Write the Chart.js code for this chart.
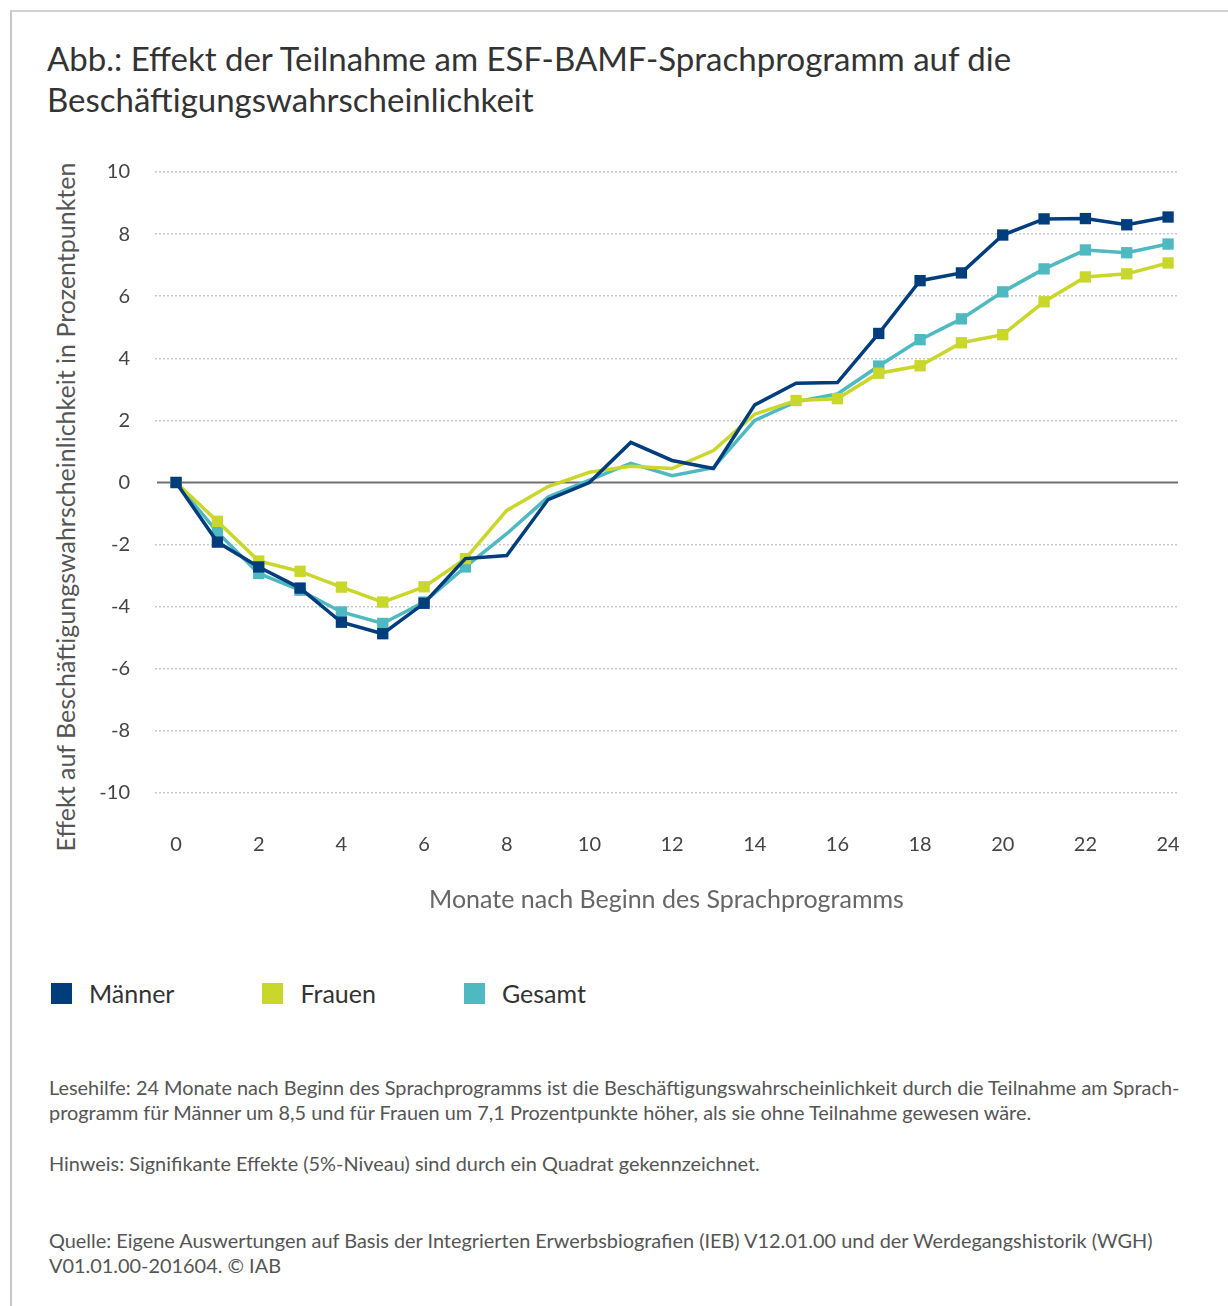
<!DOCTYPE html>
<html lang="de">
<head>
<meta charset="utf-8">
<script src="https://cdn.jsdelivr.net/npm/chart.js@4"></script>
<style>
  html, body { margin: 0; padding: 0; background: #fff; }
  body { width: 1228px; height: 1306px; position: relative; overflow: hidden; font-family: Lato, "Open Sans", sans-serif; }
  #frame { position: absolute; left: 10px; top: 10px; right: 0; bottom: 0; border-top: 2px solid #d2d2d2; border-left: 2px solid #c8c8c8; }
  #title { position: absolute; left: 47px; top: 38px; margin: 0; font-weight: 400; font-size: 33px; line-height: 41px; color: #333; white-space: nowrap; }
  #ytitle { position: absolute; left: -285px; top: 492px; width: 700px; text-align: center; font-size: 25px; line-height: 30px; color: #555; transform: rotate(-90deg); white-space: nowrap; }
  #c { position: absolute; left: 0; top: 135px; }
  #legend { position: absolute; left: 51px; top: 982px; display: flex; font-size: 25px; line-height: 22px; color: #333; }
  .li { display: flex; align-items: center; margin-right: 88px; }
  .sw { width: 21px; height: 21px; margin-right: 17px; }
  .note { position: absolute; left: 49px; font-size: 19.9px; line-height: 25px; color: #555; white-space: nowrap; }
</style>
</head>
<body>
<div id="frame"></div>
<h1 id="title">Abb.: Effekt der Teilnahme am ESF-BAMF-Sprachprogramm auf die<br>Beschäftigungswahrscheinlichkeit</h1>
<div id="ytitle">Effekt auf Beschäftigungswahrscheinlichkeit in Prozentpunkten</div>
<canvas id="c" width="1228" height="805"></canvas>
<div id="legend"></div>
<div class="note" style="top:1075px">Lesehilfe: 24 Monate nach Beginn des Sprachprogramms ist die Beschäftigungswahrscheinlichkeit durch die Teilnahme am Sprach-<br>programm für Männer um 8,5 und für Frauen um 7,1 Prozentpunkte höher, als sie ohne Teilnahme gewesen wäre.</div>
<div class="note" style="top:1151px">Hinweis: Signifikante Effekte (5%-Niveau) sind durch ein Quadrat gekennzeichnet.</div>
<div class="note" style="top:1228px">Quelle: Eigene Auswertungen auf Basis der Integrierten Erwerbsbiografien (IEB) V12.01.00 und der Werdegangshistorik (WGH)<br>V01.01.00-201604. © IAB</div>
<script>
// ---- data ----
const months = [0,1,2,3,4,5,6,7,8,9,10,11,12,13,14,15,16,17,18,19,20,21,22,23,24];
const maenner = [0,-1.92,-2.72,-3.4,-4.5,-4.87,-3.89,-2.45,-2.35,-0.55,0.0,1.29,0.71,0.45,2.5,3.2,3.22,4.8,6.5,6.75,7.97,8.49,8.5,8.3,8.55];
const frauen  = [0,-1.25,-2.53,-2.86,-3.37,-3.85,-3.36,-2.45,-0.9,-0.13,0.33,0.52,0.45,1.03,2.2,2.64,2.7,3.52,3.76,4.5,4.76,5.82,6.62,6.72,7.07];
const gesamt  = [0,-1.6,-2.93,-3.47,-4.17,-4.54,-3.85,-2.72,-1.65,-0.47,0.08,0.62,0.22,0.48,2.0,2.6,2.85,3.75,4.6,5.27,6.14,6.88,7.49,7.4,7.68];
// significant (5%) flags -> square marker
const sigMaenner = [1,1,1,1,1,1,1,0,0,0,0,0,0,0,0,0,0,1,1,1,1,1,1,1,1];
const sigFrauen  = [1,1,1,1,1,1,1,1,0,0,0,0,0,0,0,1,1,1,1,1,1,1,1,1,1];
const sigGesamt  = [1,1,1,1,1,1,1,1,0,0,0,0,0,0,0,0,0,1,1,1,1,1,1,1,1];
const seriesNames = ["Männer", "Frauen", "Gesamt"];
const xTicks = [0,2,4,6,8,10,12,14,16,18,20,22,24];
const yTicks = [-10,-8,-6,-4,-2,0,2,4,6,8,10];

const colors = ["#003d7c", "#c9d62a", "#4eb9c0"];
const FONT = "Lato, 'Open Sans', sans-serif";

function mk(name, vals, sig, color) {
  return {
    label: name,
    data: months.map((m, i) => ({ x: m, y: vals[i] })),
    borderColor: color,
    backgroundColor: color,
    borderWidth: 3.5,
    tension: 0,
    pointStyle: 'rect',
    pointRadius: sig.map(s => s ? 8 : 0),
    pointHoverRadius: sig.map(s => s ? 8 : 0),
    pointBorderWidth: 0,
    pointBackgroundColor: color
  };
}

const zeroLine = {
  id: 'zeroLine',
  beforeDatasetsDraw(chart) {
    const y = chart.scales.y.getPixelForValue(0);
    const a = chart.chartArea;
    const ctx = chart.ctx;
    ctx.save();
    ctx.strokeStyle = '#707070';
    ctx.lineWidth = 2;
    ctx.beginPath();
    ctx.moveTo(a.left + 2, y);
    ctx.lineTo(a.right, y);
    ctx.stroke();
    ctx.restore();
  }
};

new Chart(document.getElementById('c'), {
  type: 'line',
  data: {
    datasets: [
      mk(seriesNames[0], maenner, sigMaenner, colors[0]),
      mk(seriesNames[1], frauen, sigFrauen, colors[1]),
      mk(seriesNames[2], gesamt, sigGesamt, colors[2])
    ]
  },
  options: {
    responsive: false,
    animation: false,
    events: [],
    layout: { padding: { left: 0, right: 50, top: 26, bottom: 0 } },
    plugins: { legend: { display: false }, tooltip: { enabled: false } },
    scales: {
      x: {
        type: 'linear',
        min: -0.51,
        max: 24.24,
        afterBuildTicks: ax => { ax.ticks = xTicks.map(v => ({ value: v })); },
        afterFit: ax => { ax.height = 147; },
        grid: { display: false, drawTicks: false },
        border: { display: false },
        ticks: { padding: 40, color: '#444', font: { family: FONT, size: 20 }, maxRotation: 0, autoSkip: false },
        title: { display: true, text: 'Monate nach Beginn des Sprachprogramms', color: '#666', font: { family: FONT, size: 25 }, padding: { top: 0, bottom: 25 } }
      },
      y: {
        min: -10,
        max: 10,
        afterBuildTicks: ax => { ax.ticks = yTicks.map(v => ({ value: v })); },
        afterFit: ax => { ax.width = 155; },
        grid: {
          drawTicks: false,
          lineWidth: 1.5,
          color: c => (c.tick && c.tick.value === 0) ? 'rgba(0,0,0,0)' : '#c9c9c9'
        },
        border: { display: false, dash: [2, 2] },
        ticks: { padding: 25, color: '#444', font: { family: FONT, size: 20 } }
      }
    }
  },
  plugins: [zeroLine]
});

// HTML legend built from the series
const lg = document.getElementById('legend');
seriesNames.forEach((n, i) => {
  const d = document.createElement('div'); d.className = 'li';
  const s = document.createElement('span'); s.className = 'sw'; s.style.background = colors[i];
  const t = document.createElement('span'); t.textContent = n;
  d.appendChild(s); d.appendChild(t); lg.appendChild(d);
});
</script>
</body>
</html>
